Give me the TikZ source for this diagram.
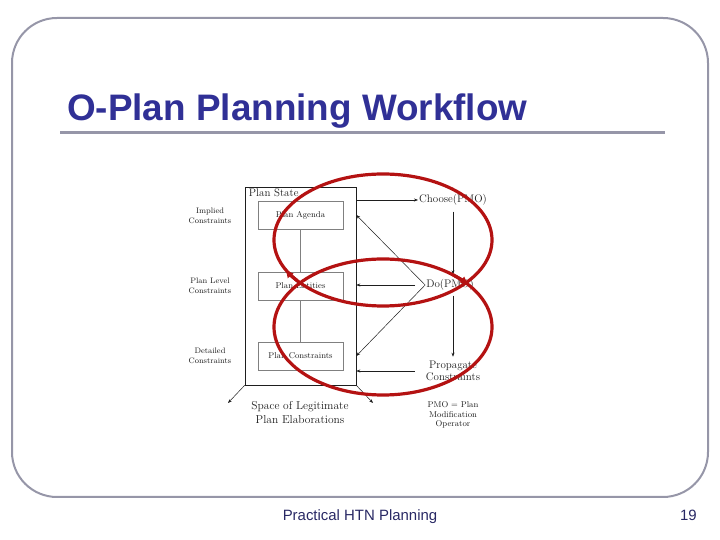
\documentclass[tikz,border=0pt]{standalone}
\usepackage{fontspec}
\newfontfamily\slidefont{Liberation Sans}
\usetikzlibrary{arrows.meta}
\definecolor{framegray}{RGB}{150,150,168}
\definecolor{titleblue}{RGB}{48,48,150}
\definecolor{footblue}{RGB}{40,40,100}
\definecolor{loopred}{RGB}{180,18,18}
\definecolor{inkgray}{RGB}{30,30,30}

\begin{document}
\begin{tikzpicture}[x=1bp, y=1bp,
  box/.style={draw=black!50, line width=0.5bp, minimum width=85bp, minimum height=28bp, inner sep=0pt, text=inkgray, font=\fontsize{8.5}{10}\selectfont},
  side/.style={align=center, inner sep=1bp, text=inkgray, font=\fontsize{8}{9.5}\selectfont},
  lbl/.style={align=center, inner sep=1bp, text=inkgray, font=\fontsize{11}{12.5}\selectfont},
  arr/.style={-{Stealth[length=4bp,width=3bp]}, line width=0.5bp, draw=inkgray},
  loop/.style={draw=loopred, line width=3.2bp}]

\useasboundingbox (0,0) rectangle (720,540);

% slide
\draw[framegray, line width=2bp, rounded corners=45bp] (12,43) rectangle (708,522);
\node[anchor=base west, inner sep=0pt, text=titleblue, font=\slidefont\bfseries\fontsize{37}{40}\selectfont] (title) at (67,419) {O-Plan Planning Workflow};
\draw[framegray, line width=3bp] (60,407) -- (665,407);
\node[anchor=base, inner sep=0pt, text=footblue, font=\slidefont\fontsize{15}{17}\selectfont] (footer) at (360,19) {Practical HTN Planning};
\node[anchor=base east, inner sep=0pt, text=footblue, font=\slidefont\fontsize{15}{17}\selectfont] (pageno) at (697,19) {19};

% plan state
\node[draw=inkgray, line width=0.6bp, minimum width=111bp, minimum height=198bp, inner sep=0pt] (state) at (300.5,254) {};
\node[anchor=north west, inner sep=1bp, text=inkgray, font=\fontsize{11}{12}\selectfont] (statelabel) at ([xshift=3bp,yshift=-1bp]state.north west) {Plan State};

\node[box] (agenda) at (300.5,325) {Plan Agenda};
\node[box] (entities) at (300.5,254) {Plan Entities};
\node[box] (constraints) at (300.5,184) {Plan Constraints};
\draw[black!50, line width=0.5bp] (agenda) -- (entities) (entities) -- (constraints);

\node[side] (implied) at (210,324) {Implied\\Constraints};
\node[side] (level) at (210,254) {Plan Level\\Constraints};
\node[side] (detailed) at (210,184) {Detailed\\Constraints};

\coordinate (sw) at (228,137);
\coordinate (se) at (373,137);
\draw[arr] (state.south west) -- (sw);
\draw[arr] (state.south east) -- (se);
\node[lbl, font=\fontsize{11.5}{14}\selectfont] (space) at (300,127) {Space of Legitimate\\Plan Elaborations};

% cycle
\node[lbl] (choose) at (453,340) {Choose(PMO)};
\node[lbl] (do) at (450,255) {Do(PMO)};
\node[lbl] (prop) at (453,169) {Propagate\\Constraints};
\node[side, font=\fontsize{8.5}{9.5}\selectfont] (pmo) at (453,125) {PMO = Plan\\Modification\\Operator};

\draw[arr] (state.east |- choose.west) -- (choose.west);
\draw[arr, shorten <=5bp, shorten >=4bp] (choose.south) -- (choose.south |- do.north);
\draw[arr, shorten <=10bp] (do.west) -- (state.east |- do.west);
\draw[arr] (do.west) -- (state.east |- agenda);
\draw[arr] (do.west) -- (state.east |- constraints);
\draw[arr, shorten <=4bp, shorten >=3bp] (prop.north |- do.south) -- (prop.north);
\draw[arr, shorten <=10bp] (prop.west) -- (state.east |- prop.west);

% red loops
\draw[loop] (383,300) ellipse [x radius=109, y radius=66];
\draw[loop] (383,213) ellipse [x radius=109, y radius=68];
\draw[loop, -{Latex[length=9bp,width=8bp]}] (383,300) ++(218:109 and 66) arc[start angle=218, end angle=206, x radius=109, y radius=66];
\draw[loop, -{Latex[length=9bp,width=8bp]}] (383,213) ++(50:109 and 68) arc[start angle=50, end angle=38, x radius=109, y radius=68];

\end{tikzpicture}
\end{document}
